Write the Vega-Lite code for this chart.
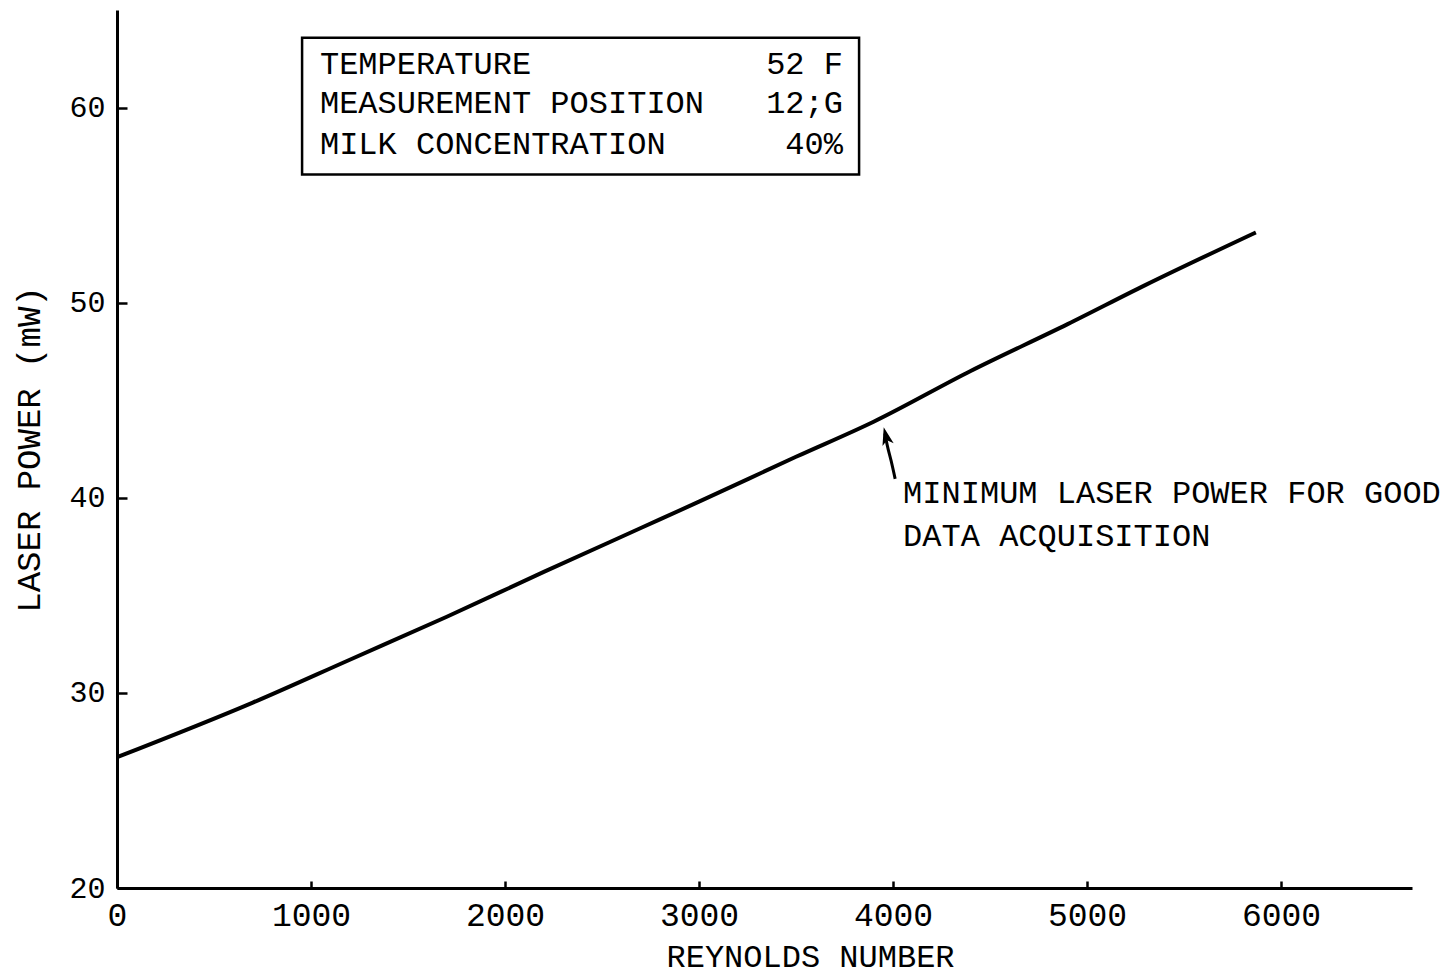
{
  "$schema": "https://vega.github.io/schema/vega-lite/v6.json",
  "width": 1295,
  "height": 878,
  "autosize": "none",
  "padding": {"left": 117, "top": 10, "right": 41, "bottom": 89},
  "background": "white",
  "config": {
    "view": {"stroke": null},
    "font": "Liberation Mono",
    "axis": {
      "grid": false,
      "domainColor": "black",
      "domainWidth": 3,
      "tickColor": "black",
      "tickWidth": 2.5,
      "labelColor": "black",
      "labelFont": "Liberation Mono",
      "titleFont": "Liberation Mono",
      "titleColor": "black",
      "titleFontWeight": "normal",
      "titleFontSize": 32
    }
  },
  "datasets": {
    "curve": [
      {"re": 0, "power": 26.7},
      {"re": 700, "power": 29.5},
      {"re": 1200, "power": 31.7},
      {"re": 1700, "power": 33.9},
      {"re": 2200, "power": 36.2},
      {"re": 2700, "power": 38.45},
      {"re": 3000, "power": 39.8},
      {"re": 3500, "power": 42.1},
      {"re": 3900, "power": 43.9},
      {"re": 4400, "power": 46.5},
      {"re": 4900, "power": 48.9},
      {"re": 5300, "power": 50.9},
      {"re": 5870, "power": 53.6}
    ],
    "box": [{"x1": 954, "x2": 3825, "y1": 63.58, "y2": 56.57}],
    "boxLeft": [
      {"x": 1046, "y": 61.74, "label": "TEMPERATURE"},
      {"x": 1046, "y": 59.74, "label": "MEASUREMENT POSITION"},
      {"x": 1046, "y": 57.64, "label": "MILK CONCENTRATION"}
    ],
    "boxRight": [
      {"x": 3742, "y": 61.74, "label": "52 F"},
      {"x": 3742, "y": 59.74, "label": "12;G"},
      {"x": 3742, "y": 57.64, "label": "40%"}
    ],
    "note": [
      {"x": 4052, "y": 39.72, "label": "MINIMUM LASER POWER FOR GOOD"},
      {"x": 4052, "y": 37.52, "label": "DATA ACQUISITION"}
    ],
    "arrow": [
      {"i": 0, "x": 4011, "y": 40.97},
      {"i": 1, "x": 3990, "y": 41.9},
      {"i": 2, "x": 3970, "y": 42.7},
      {"i": 3, "x": 3958, "y": 43.3}
    ],
    "arrowHead": [{"x": 3952, "y": 43.62}]
  },
  "layer": [
    {
      "data": {"name": "curve"},
      "mark": {"type": "line", "color": "black", "strokeWidth": 4, "interpolate": "monotone"},
      "encoding": {
        "x": {
          "field": "re", "type": "quantitative",
          "scale": {"domain": [0, 6675], "nice": false, "zero": false},
          "axis": {
            "values": [0, 1000, 2000, 3000, 4000, 5000, 6000],
            "format": "d",
            "tickSize": -7,
            "labelFontSize": 33,
            "labelPadding": 18,
            "labelFlush": false,
            "labelOverlap": false,
            "title": "REYNOLDS NUMBER",
            "titleX": 693,
            "titlePadding": 9
          }
        },
        "y": {
          "field": "power", "type": "quantitative",
          "scale": {"domain": [20, 65], "nice": false, "zero": false},
          "axis": {
            "values": [20, 30, 40, 50, 60],
            "tickSize": -10,
            "labelFontSize": 30,
            "labelPadding": 22,
            "labelFlush": false,
            "labelOverlap": false,
            "title": "LASER POWER (mW)",
            "titleFontSize": 34,
            "titlePadding": 22
          }
        }
      }
    },
    {
      "data": {"name": "box"},
      "mark": {"type": "rect", "fill": null, "stroke": "black", "strokeWidth": 2.5},
      "encoding": {
        "x": {"field": "x1", "type": "quantitative"},
        "x2": {"field": "x2"},
        "y": {"field": "y1", "type": "quantitative"},
        "y2": {"field": "y2"}
      }
    },
    {
      "data": {"name": "boxLeft"},
      "mark": {"type": "text", "align": "left", "baseline": "alphabetic", "fontSize": 32, "color": "black", "font": "Liberation Mono"},
      "encoding": {
        "x": {"field": "x", "type": "quantitative"},
        "y": {"field": "y", "type": "quantitative"},
        "text": {"field": "label"}
      }
    },
    {
      "data": {"name": "boxRight"},
      "mark": {"type": "text", "align": "right", "baseline": "alphabetic", "fontSize": 32, "color": "black", "font": "Liberation Mono"},
      "encoding": {
        "x": {"field": "x", "type": "quantitative"},
        "y": {"field": "y", "type": "quantitative"},
        "text": {"field": "label"}
      }
    },
    {
      "data": {"name": "note"},
      "mark": {"type": "text", "align": "left", "baseline": "alphabetic", "fontSize": 32, "color": "black", "font": "Liberation Mono"},
      "encoding": {
        "x": {"field": "x", "type": "quantitative"},
        "y": {"field": "y", "type": "quantitative"},
        "text": {"field": "label"}
      }
    },
    {
      "data": {"name": "arrow"},
      "mark": {"type": "line", "color": "black", "strokeWidth": 3, "interpolate": "monotone"},
      "encoding": {
        "x": {"field": "x", "type": "quantitative"},
        "y": {"field": "y", "type": "quantitative"},
        "order": {"field": "i"}
      }
    },
    {
      "data": {"name": "arrowHead"},
      "mark": {"type": "point", "shape": "M0,0 L-0.32,1 L0,0.75 L0.32,1 Z", "size": 1300, "filled": true, "color": "black", "opacity": 1, "angle": -14},
      "encoding": {
        "x": {"field": "x", "type": "quantitative"},
        "y": {"field": "y", "type": "quantitative"}
      }
    }
  ]
}
